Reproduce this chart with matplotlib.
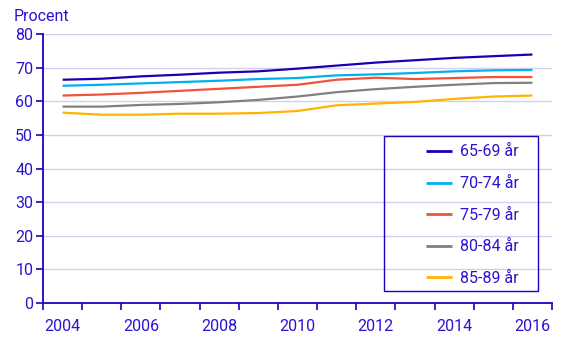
import matplotlib
matplotlib.use("Agg")
import matplotlib.pyplot as plt
from matplotlib.patches import Rectangle

years = ["2004", "2005", "2006", "2007", "2008", "2009", "2010",
         "2011", "2012", "2013", "2014", "2015", "2016"]
series_names = ["65-69 år", "70-74 år", "75-79 år", "80-84 år", "85-89 år"]
s65_69 = [66.4, 66.7, 67.4, 67.9, 68.5, 68.9, 69.7, 70.6, 71.5, 72.2, 72.9, 73.4, 73.9]
s70_74 = [64.6, 64.9, 65.3, 65.7, 66.1, 66.6, 66.9, 67.7, 68.0, 68.4, 68.9, 69.2, 69.3]
s75_79 = [61.7, 62.0, 62.5, 63.1, 63.7, 64.3, 64.9, 66.4, 67.0, 66.6, 66.9, 67.2, 67.2]
s80_84 = [58.4, 58.4, 58.9, 59.2, 59.7, 60.4, 61.4, 62.7, 63.6, 64.3, 64.9, 65.4, 65.5]
s85_89 = [56.6, 56.0, 56.0, 56.3, 56.3, 56.5, 57.1, 58.8, 59.3, 59.8, 60.7, 61.4, 61.7]
series = [s65_69, s70_74, s75_79, s80_84, s85_89]
colors = ["#1a00b4", "#00b0f0", "#f0523c", "#808080", "#ffb400"]
yticks = [0, 10, 20, 30, 40, 50, 60, 70, 80]

TXT = "#2a14d0"
AX = "#1e00be"
GRID = "#d2cef0"
FS = 11.5

plt.rcParams['font.family'] = ['Roboto', 'DejaVu Sans']

W, H = 568, 340
fig = plt.figure(figsize=(W / 100, H / 100), dpi=100)
ax = fig.add_axes([43 / W, 1 - 303 / H, (552 - 43) / W, (303 - 34) / H])

x = list(range(len(years)))
for vals, name, c in zip(series, series_names, colors):
    ax.plot(x, vals, color=c, lw=1.6, label=name, solid_capstyle='butt')

ax.set_xlim(-0.5, len(years) - 0.5)
ax.set_ylim(0, 80)
ax.set_yticks(yticks)
ax.set_yticklabels([str(v) for v in yticks])
ax.yaxis.grid(True, color=GRID, lw=1)
ax.set_axisbelow(True)

ax.set_xticks([i - 0.5 for i in range(len(years) + 1)])
ax.set_xticklabels([])
ax.set_xticks(x[::2], minor=True)
ax.set_xticklabels(years[::2], minor=True)
ax.tick_params(axis='x', which='major', length=5, width=1.2, color=AX, direction='out')
ax.tick_params(axis='x', which='minor', length=0, pad=11.5, labelsize=FS, labelcolor=TXT)
ax.tick_params(axis='y', length=5, width=1.2, color=AX, pad=2, labelsize=FS, labelcolor=TXT)

for s in ['top', 'right']:
    ax.spines[s].set_visible(False)
for s in ['left', 'bottom']:
    ax.spines[s].set_color(AX)
    ax.spines[s].set_linewidth(1.3)

fig.text(14 / W, 1 - 16.5 / H, "Procent", color=TXT, fontsize=FS, va='center', ha='left')

leg = ax.legend(loc='upper left', bbox_to_anchor=(418 / W, 1 - 136.5 / H),
                bbox_transform=fig.transFigure, frameon=False, borderpad=0,
                fontsize=FS, labelspacing=1.04, handlelength=1.65, handletextpad=0.45)
for t in leg.get_texts():
    t.set_color(TXT)
for h in leg.get_lines():
    h.set_linewidth(2)

fig.patches.append(Rectangle((384 / W, 1 - 291 / H), (538 - 384) / W, (291 - 136) / H,
                             transform=fig.transFigure, fill=False, edgecolor=AX, lw=1.0))

fig.savefig("out.png", dpi=100)
